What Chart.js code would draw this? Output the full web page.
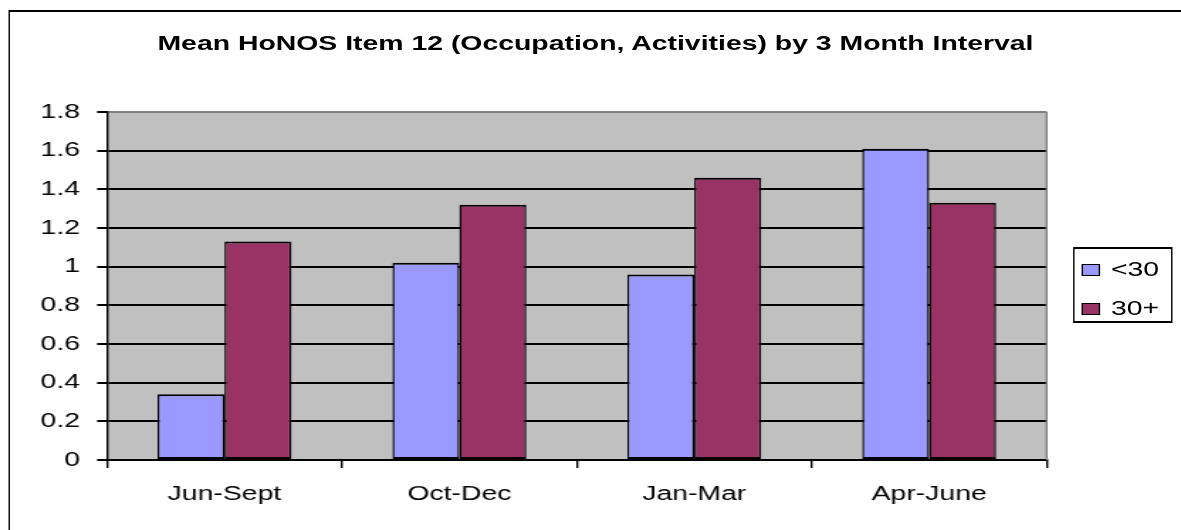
<!DOCTYPE html>
<html>
<head>
<meta charset="utf-8">
<script src="https://cdn.jsdelivr.net/npm/chart.js@4/dist/chart.umd.min.js"></script>
<style>
    html, body { margin: 0; padding: 0; background: #fff; overflow: hidden; }
    body { width: 1181px; height: 530px; position: relative; font-family: "Liberation Sans", Arial, sans-serif; }
    /* the reference is stretched sideways, so the whole chart is laid out narrow and scaled */
    #stage { position: absolute; left: 0; top: 0; width: 832px; height: 530px; transform: scaleX(1.4195); transform-origin: 0 0; }
    #frame { position: absolute; left: 5.6px; top: 10px; width: 900px; height: 600px; border-style: solid; border-color: #000; border-width: 2px 1.4px; box-sizing: border-box; }
    #title { position: absolute; left: 0; width: 839px; top: 32px; text-align: center; font-weight: bold; font-size: 20px; color: #000; white-space: nowrap; }
    #legend { position: absolute; left: 755.6px; top: 247px; width: 70.4px; height: 76px; border-style: solid; border-color: #000; border-width: 2px 1.4px; box-sizing: border-box; background: #fff; }
    .item { position: absolute; left: 5.7px; display: flex; align-items: center; gap: 7.7px; font-size: 20px; color: #000; line-height: 23px; }
    .swatch { width: 12.7px; height: 12px; border-style: solid; border-color: #000; border-width: 1.5px 1.1px; box-sizing: border-box; }
</style>
</head>
<body>
<div id="stage">
    <div id="frame"></div>
    <div id="title">Mean HoNOS Item 12 (Occupation, Activities) by 3 Month Interval</div>
    <canvas id="honosChart" width="832" height="530"></canvas>
    <div id="legend"></div>
</div>

<script>
const CATEGORIES = ['Jun-Sept', 'Oct-Dec', 'Jan-Mar', 'Apr-June'];
const UNDER_30   = [0.34, 1.02, 0.96, 1.61];
const OVER_30    = [1.13, 1.32, 1.46, 1.33];
const Y_TICKS    = [0, 0.2, 0.4, 0.6, 0.8, 1, 1.2, 1.4, 1.6, 1.8];

const SERIES = [
    { label: '<30', data: UNDER_30, color: '#9999FF' },
    { label: '30+', data: OVER_30,  color: '#993366' },
];

const FONT = { family: '"Liberation Sans", Arial, sans-serif', size: 20 };
const V_LINE = 1.4;   // vertical lines get widened by the stretch

function buildLegend(containerId, items) {
    const el = document.getElementById(containerId);
    if (!el) return;
    el.innerHTML = items.map((i, idx) =>
        `<span class="item" style="top:${idx === 0 ? 9 : 48}px">
            <span class="swatch" style="background:${i.color}"></span>${i.label}
         </span>`
    ).join('');
}

// plot background and the grey right edge
const plotArea = {
    id: 'plotArea',
    beforeDraw(chart) {
        const { ctx, chartArea: a } = chart;
        ctx.save();
        ctx.fillStyle = '#C0C0C0';
        ctx.fillRect(a.left, a.top, a.right - a.left, a.bottom - a.top);
        ctx.restore();
    },
    afterDraw(chart) {
        const { ctx, chartArea: a } = chart;
        ctx.save();
        ctx.strokeStyle = '#808080';
        ctx.lineWidth = V_LINE;
        ctx.beginPath();
        ctx.moveTo(a.right, a.top);
        ctx.lineTo(a.right, a.bottom);
        ctx.stroke();
        ctx.restore();
    },
};

buildLegend('legend', SERIES);

new Chart(document.getElementById('honosChart'), {
    type: 'bar',
    data: {
        labels: CATEGORIES,
        datasets: SERIES.map(s => ({
            label: s.label,
            data: s.data,
            backgroundColor: s.color,
            borderColor: '#000',
            borderWidth: { top: 2, bottom: 2, left: V_LINE, right: V_LINE },
            borderSkipped: false,
            categoryPercentage: 0.57,
            barPercentage: 1.0,
        })),
    },
    options: {
        responsive: false,
        devicePixelRatio: 1,
        animation: false,
        layout: { padding: { top: 112, right: 94.7, bottom: 0, left: 0 } },
        plugins: {
            legend: { display: false },
            title: { display: false },
            tooltip: { enabled: false },
        },
        scales: {
            x: {
                offset: true,
                afterFit: s => { s.height = 70; },
                ticks: { color: '#000', font: FONT, padding: 14, maxRotation: 0 },
                grid: { offset: true, drawOnChartArea: false, drawTicks: true, tickLength: 8, color: '#000', lineWidth: V_LINE },
                border: { color: '#000', width: 2 },
            },
            y: {
                min: 0,
                max: 1.8,
                afterFit: s => { s.width = 75.4; },
                afterBuildTicks: s => { s.ticks = Y_TICKS.map(v => ({ value: v })); },
                ticks: { color: '#000', font: FONT, padding: 12, callback: v => String(v) },
                grid: {
                    color: c => (c.tick && c.tick.value === 1.8 ? '#808080' : '#000'),
                    lineWidth: 2,
                    tickLength: 7,
                    tickColor: '#000',
                },
                border: { color: '#000', width: V_LINE },
            },
        },
    },
    plugins: [plotArea],
});
</script>
</body>
</html>
